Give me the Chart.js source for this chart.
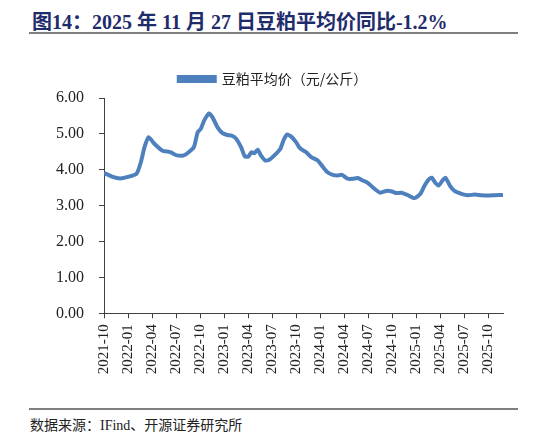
<!DOCTYPE html>
<html>
<head>
<meta charset="utf-8">
<script src="https://cdn.jsdelivr.net/npm/chart.js@4"></script>
<style>
  body { margin: 0; width: 546px; height: 439px; background: #fff; position: relative; overflow: hidden; }
  #title { position: absolute; left: 32px; top: 6px; font: bold 20px "Liberation Serif", "Noto Sans CJK SC", serif; color: #1f2c6b; white-space: nowrap; }
  .rule { position: absolute; left: 29px; width: 489px; height: 2px; background: #7f7f7f; }
  #source { position: absolute; left: 30px; top: 414px; font: 14px "Liberation Serif", "Noto Sans CJK SC", serif; color: #222; white-space: nowrap; }
  #wrap { position: absolute; left: 0; top: 62px; width: 546px; height: 338px; }
</style>
</head>
<body>
<div id="title">图14：2025 年 11 月 27 日豆粕平均价同比-1.2%</div>
<div class="rule" style="top:32px"></div>
<div id="wrap"><canvas id="chart"></canvas></div>
<div class="rule" style="top:408px"></div>
<div id="source">数据来源：IFind、开源证券研究所</div>
<script>
// weekly series (sparse sample)
const dates = ['2021-10-01','2021-11-01','2021-12-02','2022-01-04','2022-02-03','2022-02-18','2022-03-03','2022-03-19','2022-04-08','2022-05-09','2022-06-10','2022-07-05','2022-07-31','2022-08-19','2022-09-08','2022-09-22','2022-10-04','2022-10-17','2022-11-05','2022-11-18','2022-12-07','2022-12-26','2023-01-14','2023-02-03','2023-02-16','2023-03-05','2023-03-20','2023-04-02','2023-04-14','2023-04-25','2023-05-07','2023-05-20','2023-06-05','2023-06-21','2023-07-10','2023-08-02','2023-08-15','2023-08-28','2023-09-12','2023-10-01','2023-10-14','2023-10-24','2023-11-09','2023-11-28','2023-12-23','2024-01-11','2024-01-30','2024-02-18','2024-03-08','2024-03-24','2024-04-15','2024-05-04','2024-05-23','2024-06-12','2024-07-01','2024-07-26','2024-08-17','2024-09-09','2024-09-28','2024-10-17','2024-11-06','2024-12-01','2024-12-26','2025-01-18','2025-02-03','2025-02-16','2025-02-28','2025-03-14','2025-03-27','2025-04-08','2025-04-21','2025-05-08','2025-05-26','2025-06-21','2025-07-16','2025-08-11','2025-09-06','2025-10-01','2025-10-27','2025-11-27']
const prices = [3.91,3.81,3.76,3.81,3.89,4.21,4.63,4.91,4.74,4.54,4.49,4.40,4.40,4.49,4.63,5.04,5.14,5.37,5.57,5.46,5.18,5.02,4.97,4.94,4.86,4.63,4.37,4.37,4.49,4.46,4.56,4.40,4.26,4.28,4.40,4.58,4.83,4.98,4.93,4.77,4.62,4.56,4.49,4.35,4.26,4.09,3.93,3.86,3.84,3.86,3.75,3.75,3.77,3.70,3.63,3.47,3.36,3.41,3.40,3.35,3.36,3.29,3.21,3.33,3.56,3.72,3.78,3.63,3.56,3.68,3.78,3.56,3.41,3.33,3.29,3.31,3.29,3.28,3.29,3.30]
const tickLabels = ['2021-10','2022-01','2022-04','2022-07','2022-10','2023-01','2023-04','2023-07','2023-10','2024-01','2024-04','2024-07','2024-10','2025-01','2025-04','2025-07','2025-10']
const seriesName = '豆粕平均价（元/公斤）'

// months since 2021-10
function monthIndex(s) {
  const [y, m, d] = s.split('-').map(Number)
  const dim = new Date(y, m, 0).getDate()
  return (y - 2021) * 12 + (m - 10) + (d - 1) / dim
}

const points = dates.map((d, i) => ({ x: monthIndex(d), y: prices[i] }))
const tickValues = tickLabels.map(t => monthIndex(t + '-01'))
const axisColor = '#404040'
const serif = '"Liberation Serif", "Times New Roman", serif'

// a little more room between legend and plot
const legendGap = {
  id: 'legendGap',
  afterInit(chart) {
    const fit = chart.legend.fit
    chart.legend.fit = function () {
      fit.call(this)
      this.height += 2
    }
  }
}

new Chart(document.getElementById('chart'), {
  type: 'line',
  data: {
    datasets: [{
      label: seriesName,
      data: points,
      borderColor: '#4e80be',
      backgroundColor: '#4e80be',
      borderWidth: 4,
      pointRadius: 0,
      tension: 0.2
    }]
  },
  plugins: [legendGap],
  options: {
    responsive: true,
    maintainAspectRatio: false,
    animation: false,
    layout: { padding: { top: 0, right: 43, bottom: 0, left: 43 } },
    plugins: {
      tooltip: { enabled: false },
      legend: {
        position: 'top',
        labels: {
          boxWidth: 36,
          boxHeight: 4,
          padding: 10,
          color: '#222',
          font: { family: '"Noto Sans CJK SC", sans-serif', size: 14 }
        }
      }
    },
    scales: {
      x: {
        type: 'linear',
        min: 0,
        max: monthIndex(dates[dates.length - 1]),
        afterBuildTicks: (scale) => { scale.ticks = tickValues.map(v => ({ value: v })) },
        afterFit: (scale) => { scale.height = 86.7 },
        grid: { drawOnChartArea: false, drawTicks: true, tickLength: 5, color: axisColor },
        border: { color: axisColor, width: 1 },
        ticks: {
          minRotation: 90,
          maxRotation: 90,
          autoSkip: false,
          padding: 6,
          color: '#222',
          font: { family: serif, size: 15 },
          callback: (v) => tickLabels[tickValues.indexOf(v)]
        }
      },
      y: {
        min: 0,
        max: 6,
        afterFit: (scale) => { scale.width = 61 },
        grid: { drawOnChartArea: false, drawTicks: true, tickLength: 5, color: axisColor },
        border: { color: axisColor, width: 1 },
        ticks: {
          stepSize: 1,
          padding: 15,
          color: '#222',
          font: { family: serif, size: 16 },
          callback: (v) => v.toFixed(2)
        }
      }
    }
  }
})
</script>
</body>
</html>
